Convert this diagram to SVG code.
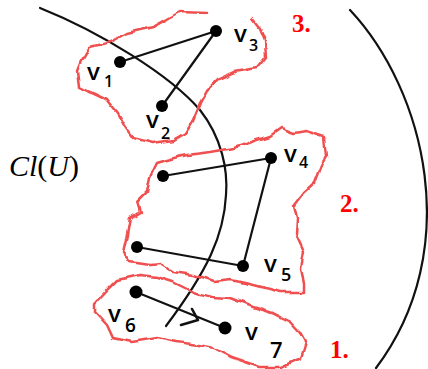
<svg xmlns="http://www.w3.org/2000/svg" width="428" height="369" viewBox="0 0 428 369">
<style>
.bg{fill:#ffffff}
.arc{fill:none;stroke:#111;stroke-width:2.2;stroke-linecap:round}
.blob{fill:none;stroke:#f05050;stroke-width:2.5;stroke-linejoin:round;stroke-linecap:round}
.edge{fill:none;stroke:#111;stroke-width:2.2;stroke-linecap:round;stroke-linejoin:round}
.dot{fill:#000}
.lbl{font-family:"Open Sans","DejaVu Sans",sans-serif;font-weight:600;fill:#000;font-size:24px}
.sub{font-size:16px}
.num{font-family:"Liberation Serif","Times New Roman",serif;font-weight:bold;fill:#ff0000;font-size:25px}
.cl{font-family:"Liberation Serif","DejaVu Serif",serif;font-size:30px;fill:#000}
</style>
<defs>
<filter id="wobble" filterUnits="userSpaceOnUse" x="0" y="0" width="428" height="369">
<feTurbulence type="fractalNoise" baseFrequency="0.08" numOctaves="1" seed="5" result="n"/>
<feDisplacementMap in="SourceGraphic" in2="n" scale="7" xChannelSelector="R" yChannelSelector="G"/>
</filter>
</defs>
<rect class="bg" x="0" y="0" width="428" height="369"/>
<g id="boundaries">
<path class="arc" d="M40,8 C100,32 170,75 200,110 C222,138 228,170 226,195 C224,235 208,270 166,326"/>
<path class="arc" d="M350,10 C425,90 465,250 376,368"/>
</g>
<g id="regions" filter="url(#wobble)">
<path id="region3" class="blob" d="M207,13 L180,12 L153,27 L127,33 L110,42 L90,47 L82,62 L78,72 L80,87 L90,92 L107,100 L117,113 L125,127 L133,138 L153,143 L173,140 L185,133 L193,120 L200,103 L207,90 L217,80 L235,72 L257,68 L266,57 L265,40 L260,28 L252,18"/>
<path id="region2" class="blob" d="M157,163 L167,160 L187,155 L210,152 L233,148 L257,140 L270,136 L281,128 L294,133 L306,131 L324,137 L326,157 L321,165 L314,183 L304,192 L294,205 L297,218 L296,235 L304,252 L301,268 L304,285 L304,292 L281,292 L254,285 L231,280 L214,282 L193,275 L173,272 L160,264 L150,265 L130,262 L123,252 L127,235 L130,218 L140,212 L137,202 L147,192 L150,177 Z"/>
<path id="region1" class="blob" d="M95,303 L107,290 L117,280 L140,275 L157,277 L173,282 L193,292 L213,297 L230,298 L253,307 L273,313 L291,322 L301,333 L306,342 L301,358 L281,367 L260,367 L231,357 L214,348 L200,345 L177,342 L157,338 L133,342 L113,338 L107,325 L95,312 Z"/>
</g>
<g id="connectors">
<line class="edge" x1="120" y1="62" x2="216" y2="31"/>
<line class="edge" x1="216" y1="31" x2="162" y2="106"/>
<line class="edge" x1="163" y1="176" x2="271" y2="158"/>
<line class="edge" x1="271" y1="158" x2="243" y2="266"/>
<line class="edge" x1="137" y1="247" x2="243" y2="266"/>
<line class="edge" x1="136" y1="292" x2="225" y2="328"/>
<path class="edge" d="M192,309 L198,320 L181,325" style="stroke-width:2.6"/>
</g>
<g id="v1"><circle class="dot" cx="120" cy="62" r="6"/><text class="lbl" x="87" y="80">v<tspan class="sub" x="104" y="87">1</tspan></text></g>
<g id="v2"><circle class="dot" cx="162" cy="106" r="6"/><text class="lbl" x="146" y="128">v<tspan class="sub" x="161" y="139">2</tspan></text></g>
<g id="v3"><circle class="dot" cx="216" cy="31" r="6"/><text class="lbl" x="234" y="42">v<tspan class="sub" x="249" y="51">3</tspan></text></g>
<g id="v4"><circle class="dot" cx="271" cy="158" r="6"/><text class="lbl" x="284" y="162">v<tspan class="sub" x="299" y="168">4</tspan></text></g>
<g id="u1"><circle class="dot" cx="163" cy="176" r="6"/></g>
<g id="u2"><circle class="dot" cx="137" cy="247" r="6"/></g>
<g id="v5"><circle class="dot" cx="243" cy="266" r="6"/><text class="lbl" x="264" y="272">v<tspan class="sub" style="font-size:18px" x="281" y="281">5</tspan></text></g>
<g id="v6"><circle class="dot" cx="136" cy="292" r="6.5"/><text class="lbl" x="108" y="322">v<tspan class="sub" style="font-size:19px" x="125" y="332">6</tspan></text></g>
<g id="v7"><circle class="dot" cx="225" cy="328" r="6.5"/><text class="lbl" x="245" y="340">v<tspan class="sub" style="font-size:22px" x="270" y="358">7</tspan></text></g>
<g id="labels">
<text class="cl" x="9" y="176"><tspan font-style="italic">Cl</tspan>(<tspan font-style="italic">U</tspan>)</text>
<text class="num" x="292" y="32">3.</text>
<text class="num" x="340" y="212">2.</text>
<text class="num" x="330" y="358">1.</text>
</g>
</svg>
